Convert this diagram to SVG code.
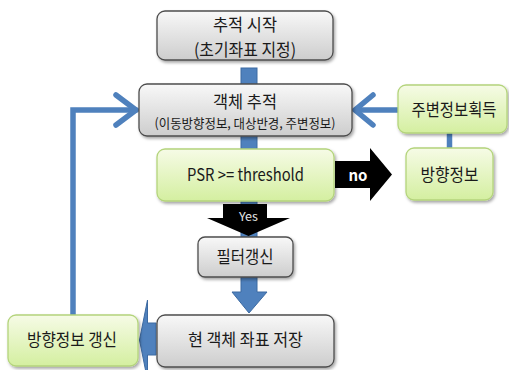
<svg xmlns="http://www.w3.org/2000/svg" width="509" height="370" viewBox="0 0 509 370">
<defs>
<linearGradient id="gGray" x1="0" y1="0" x2="0" y2="1">
<stop offset="0" stop-color="#f8f8f8"/>
<stop offset="1" stop-color="#cdcdcd"/>
</linearGradient>
<linearGradient id="gGreen" x1="0" y1="0" x2="0" y2="1">
<stop offset="0" stop-color="#f6fbe6"/>
<stop offset="1" stop-color="#d4efa0"/>
</linearGradient>
<filter id="sh" x="-10%" y="-10%" width="125%" height="130%">
<feDropShadow dx="1.5" dy="2" stdDeviation="1.5" flood-color="#000" flood-opacity="0.35"/>
</filter>
</defs>
<style>
.gray{fill:url(#gGray);stroke:#4d4d4d;stroke-width:1.3;filter:url(#sh)}
.green{fill:url(#gGreen);stroke:#b4d47c;stroke-width:1.3;filter:url(#sh)}
.t{font-family:"Noto Sans CJK KR","Noto Sans",sans-serif;fill:#1a1a1a;text-anchor:middle;lengthAdjust:spacingAndGlyphs}
.bar{fill:#4f81bd;stroke:#3c6aa2;stroke-width:1}
.line{fill:none;stroke:#4f81bd;stroke-width:5.5;stroke-linecap:round;stroke-linejoin:miter}
.blk{fill:#000}
</style>
<rect width="509" height="370" fill="#fff"/>
<g id="connectors">
<rect class="bar" x="241" y="68" width="16" height="18"/>
<rect class="bar" x="241" y="134" width="16" height="16"/>
<rect class="bar" x="241" y="200" width="16" height="37"/>
<polygon class="blk" points="223,204 267,204 267,218 290,218 248.5,236 207,218 223,218"/>
<polygon class="blk" points="335,161 370,161 370,148 392,174.5 370,201 370,188 335,188"/>
<polygon class="bar" points="241,277 257,277 257,292 267,292 249,313 232,292 241,292"/>
<polygon class="bar" points="156,323 147.5,323 147.5,300 139.5,340 147.5,380 147.5,355 156,355"/>
<line class="line" x1="398" y1="110" x2="356" y2="110"/>
<polyline class="line" points="373,95 355,110 373,125"/>
<polyline class="line" points="73,315 73,110 136,110"/>
<polyline class="line" points="116,95 136,110 116,125"/>
<line class="line" x1="449.5" y1="133" x2="449.5" y2="149" style="stroke-linecap:butt"/>
<text class="t" x="248.5" y="220.5" font-size="12" fill="#eee" style="fill:#e6e6e6" textLength="19" lengthAdjust="spacingAndGlyphs">Yes</text>
<text class="t" x="358" y="180.5" font-size="15" font-weight="bold" style="fill:#fff" textLength="19" lengthAdjust="spacingAndGlyphs">no</text>
</g>
<g id="start">
<rect class="gray" x="157" y="11" width="176" height="49" rx="8"/>
<text class="t" x="245" y="31" font-size="17" textLength="64" lengthAdjust="spacingAndGlyphs">추적 시작</text>
<text class="t" x="245" y="56" font-size="17" textLength="102" lengthAdjust="spacingAndGlyphs">(초기좌표 지정)</text>
</g>
<g id="track">
<rect class="gray" x="139" y="84" width="213" height="52" rx="8"/>
<text class="t" x="245" y="108" font-size="17" textLength="64" lengthAdjust="spacingAndGlyphs">객체 추적</text>
<text class="t" x="245" y="127.5" font-size="13" textLength="181" lengthAdjust="spacingAndGlyphs">(이동방향정보, 대상반경, 주변정보)</text>
</g>
<g id="info">
<rect class="green" x="398" y="85" width="109" height="48" rx="8"/>
<text class="t" x="454" y="116" font-size="17" textLength="85" lengthAdjust="spacingAndGlyphs">주변정보획득</text>
</g>
<g id="psr">
<rect class="green" x="157" y="149" width="177" height="52" rx="8"/>
<text class="t" x="245.5" y="181" font-size="17" textLength="117" lengthAdjust="spacingAndGlyphs">PSR &gt;= threshold</text>
</g>
<g id="dir">
<rect class="green" x="406" y="148" width="87" height="52" rx="8"/>
<text class="t" x="449.5" y="181" font-size="17" textLength="58" lengthAdjust="spacingAndGlyphs">방향정보</text>
</g>
<g id="filter">
<rect class="gray" x="198" y="237" width="95" height="40" rx="7"/>
<text class="t" x="245" y="263" font-size="17" textLength="57" lengthAdjust="spacingAndGlyphs">필터갱신</text>
</g>
<g id="save">
<rect class="gray" x="157" y="315" width="177" height="52" rx="8"/>
<text class="t" x="245.5" y="346" font-size="17" textLength="115" lengthAdjust="spacingAndGlyphs">현 객체 좌표 저장</text>
</g>
<g id="update">
<rect class="green" x="8" y="315" width="130" height="51" rx="8"/>
<text class="t" x="72" y="346" font-size="17" textLength="90" lengthAdjust="spacingAndGlyphs">방향정보 갱신</text>
</g>
</svg>
